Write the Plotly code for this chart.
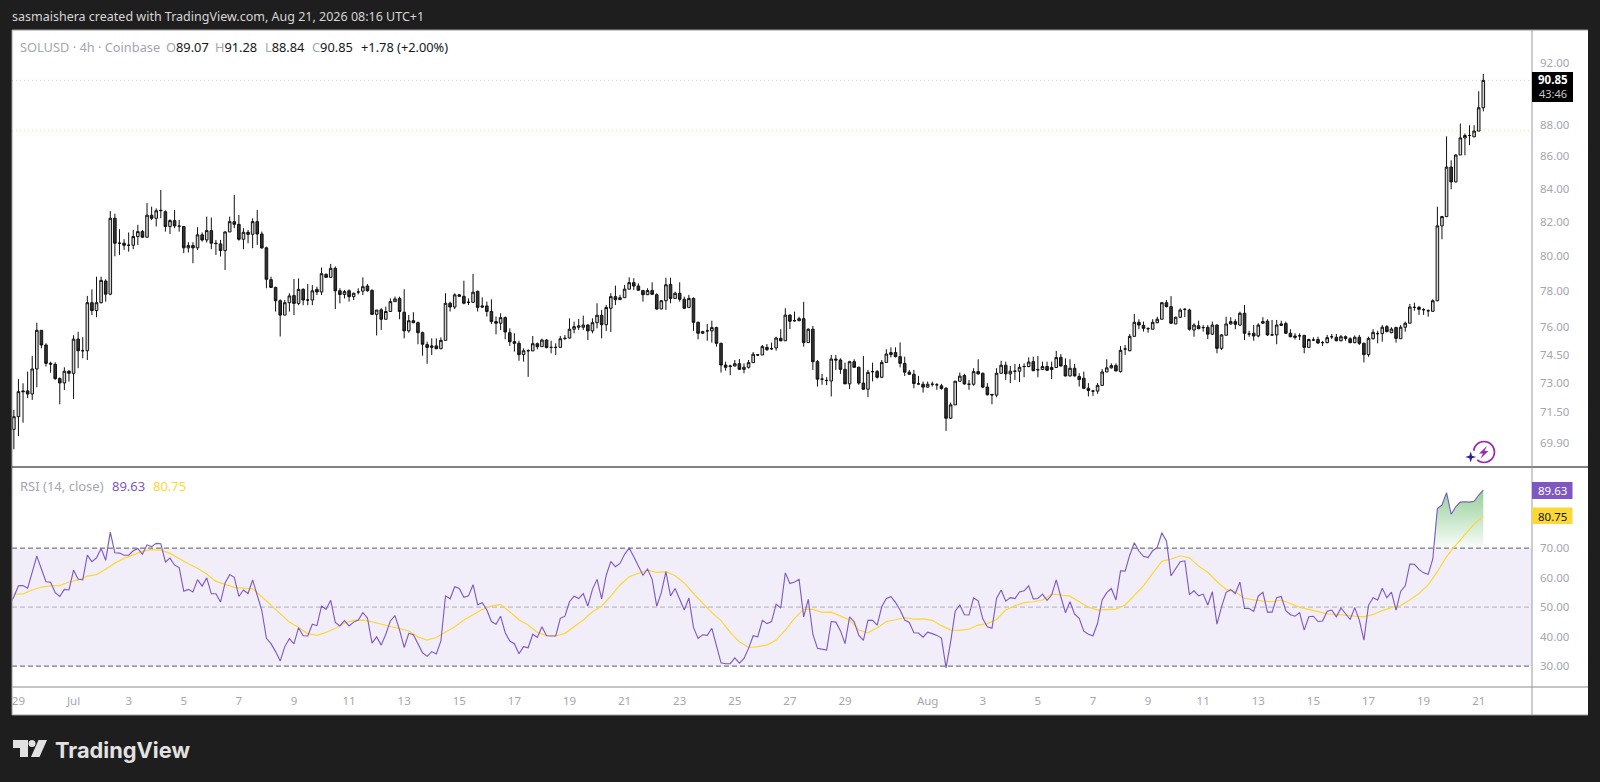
import math
import pandas as pd
import plotly.graph_objects as go

# --- 4h SOLUSD candles ---
OPEN = [
    71.24,70.59,71.24,72.58,72.58,72.42,73.74,75.83,75.03,74.04,
    73.99,73.23,73.0,73.62,73.51,75.35,74.72,74.72,77.36,76.92,
    77.36,78.58,77.84,82.23,80.76,80.76,80.64,80.64,81.15,81.44,
    81.11,82.41,82.23,82.68,82.62,81.74,82.09,81.76,81.74,80.49,
    80.62,80.49,81.25,80.95,81.5,80.76,80.72,80.33,81.42,82.03,
    81.87,80.99,81.4,81.28,82.03,81.3,80.49,78.66,78.22,77.47,
    76.67,77.36,77.76,77.32,78.11,77.51,77.51,78.11,77.96,78.96,
    78.79,79.31,78.03,77.82,78.03,77.7,77.96,78.01,78.3,78.05,
    76.71,76.96,76.44,76.87,77.42,77.6,76.83,75.8,76.36,76.25,
    75.7,75.05,74.9,74.98,74.83,75.28,77.33,77.12,77.8,77.72,
    77.38,77.38,78.0,77.18,77.18,76.87,76.31,76.22,76.53,75.7,
    75.21,75.12,74.51,74.72,74.71,75.1,74.94,75.3,74.9,74.9,
    74.9,75.39,75.41,75.89,76.0,76.0,76.12,75.8,76.25,76.66,
    76.14,77.05,77.7,77.53,77.64,78.12,78.49,78.3,78.04,77.81,
    78.04,77.81,77.01,77.47,78.39,77.6,77.89,77.55,77.1,77.6,
    76.27,75.67,75.8,75.8,75.98,75.12,73.95,73.9,73.9,74.02,
    73.72,73.83,74.08,74.5,74.49,74.9,74.83,74.87,75.39,75.26,
    76.67,76.36,76.36,76.47,75.16,75.89,74.13,73.2,73.13,73.1,
    74.27,74.22,73.72,72.95,74.13,73.83,72.99,72.67,73.6,73.6,
    73.3,74.09,74.51,74.62,74.4,74.04,73.57,73.46,72.95,72.93,
    72.78,72.93,72.9,72.85,72.72,71.16,71.85,73.09,73.39,72.93,
    72.93,73.6,73.51,72.78,72.39,72.36,73.51,73.94,73.48,73.62,
    73.62,73.87,73.87,74.13,73.7,73.71,73.87,73.71,73.82,74.36,
    73.92,73.37,73.78,73.34,73.25,72.72,72.57,72.57,72.87,73.58,
    73.8,73.92,73.6,74.81,74.72,75.5,76.27,76.1,75.92,75.89,
    76.25,76.44,77.36,77.14,76.18,76.55,76.99,76.95,75.85,76.08,
    75.98,75.99,75.62,76.12,74.85,75.56,76.18,76.31,76.12,76.77,
    75.63,75.67,75.52,76.22,76.33,75.58,75.58,76.1,76.2,75.67,
    75.52,75.53,75.55,74.9,75.3,75.33,75.16,75.16,75.48,75.45,
    75.26,75.48,75.37,75.16,75.45,75.12,74.51,75.37,75.65,75.65,
    76.03,75.7,75.98,75.37,76.0,76.22,77.1,77.1,76.97,76.91,
    76.88,77.47,81.78,82.33,85.33,84.42,86.08,87.15,87.3,87.22,87.58,89.07,
]
HIGH = [
    72.02,71.59,73.2,72.98,73.6,74.43,76.25,75.83,75.12,74.13,
    74.1,73.3,73.83,73.69,75.56,75.75,75.45,77.74,78.11,78.83,
    78.83,78.68,82.66,82.5,81.58,81.0,81.39,81.54,81.84,81.54,
    83.14,82.92,82.82,83.93,82.7,82.17,82.72,82.13,81.78,80.82,
    80.82,81.7,81.39,82.33,82.27,80.95,80.95,81.46,82.33,83.63,
    82.43,81.64,81.54,82.23,82.72,81.44,80.56,78.83,78.26,77.55,
    77.51,77.89,78.7,78.73,78.17,78.41,78.35,78.26,79.35,79.02,
    79.56,79.41,78.17,78.07,78.11,77.92,78.17,78.79,78.41,78.11,
    76.95,77.05,77.14,77.6,77.7,77.7,78.12,76.68,76.83,76.31,
    75.76,75.21,75.39,75.39,75.44,77.89,77.42,77.89,77.85,78.6,
    77.6,78.99,78.04,77.66,77.42,77.55,76.59,76.77,76.59,75.94,
    75.67,75.26,74.85,74.8,75.52,75.16,75.37,75.34,75.26,75.12,
    75.52,75.57,76.49,76.31,76.46,76.64,76.18,76.49,77.33,76.96,
    77.23,77.89,78.32,77.8,78.36,78.79,78.74,78.45,78.08,78.17,
    78.51,77.89,77.51,78.77,78.77,77.98,78.51,77.7,77.8,77.66,
    76.31,75.8,76.18,76.36,76.03,75.16,74.13,73.97,74.22,74.27,
    74.04,74.22,74.65,74.53,75.03,75.08,75.16,75.48,75.89,77.05,
    76.71,76.86,76.58,77.41,75.94,76.07,74.22,73.48,73.3,74.49,
    74.49,74.31,74.08,74.18,74.26,73.87,74.44,73.69,74.08,73.69,
    74.22,74.8,74.9,74.9,75.17,74.4,73.69,73.69,73.37,73.07,
    73.07,73.07,72.99,72.95,72.78,71.97,73.11,73.55,73.48,73.16,
    73.78,74.26,73.55,72.99,72.43,73.78,74.18,74.13,73.9,74.01,
    74.01,74.04,74.36,74.4,74.44,74.13,74.13,74.13,74.71,74.54,
    74.31,74.26,74.01,73.51,73.6,72.99,72.64,72.99,73.73,74.26,
    74.04,74.04,74.97,75.03,75.63,76.73,76.44,76.31,76.0,76.44,
    76.58,77.4,77.51,77.73,76.58,77.05,77.05,77.03,76.22,76.36,
    76.12,76.12,76.31,76.16,75.62,76.58,76.55,76.44,76.86,77.23,
    75.81,76.12,76.22,76.55,76.44,76.4,76.4,76.36,76.31,75.89,
    75.67,75.67,75.59,75.37,75.45,75.48,75.25,75.58,75.63,75.63,
    75.58,75.55,75.45,75.55,75.58,75.16,75.48,75.89,75.81,76.12,
    76.12,76.0,76.03,76.12,76.31,77.29,77.36,77.18,77.05,76.99,
    77.55,82.92,82.37,87.25,85.75,86.12,88.06,87.43,87.95,87.95,90.14,91.28,
]
LOW = [
    70.55,69.58,70.25,70.93,72.2,72.11,72.77,74.85,73.87,73.54,
    73.16,71.88,72.63,73.07,72.16,73.78,74.31,74.22,76.67,76.55,
    77.32,77.42,77.78,80.0,80.08,80.37,80.27,80.41,80.66,81.07,
    81.11,82.13,81.74,82.23,81.44,81.3,81.64,81.44,80.18,80.22,
    79.6,80.37,80.85,80.8,80.41,80.08,79.99,79.21,81.42,81.64,
    80.91,80.41,80.76,80.47,80.66,80.43,78.17,78.22,76.86,75.49,
    76.67,76.86,76.67,77.22,77.22,77.22,77.22,77.79,77.79,78.79,
    78.79,77.0,77.32,77.6,77.42,77.51,77.82,77.79,77.98,76.67,
    75.55,75.85,76.44,76.87,77.42,76.44,75.39,75.7,76.22,75.07,
    74.45,74.02,74.49,74.8,74.8,75.28,76.87,77.0,77.7,77.27,
    77.23,77.38,76.87,77.08,76.59,76.18,75.61,75.85,75.34,74.98,
    74.67,74.18,74.13,73.32,74.71,74.8,74.94,74.85,74.58,74.49,
    74.9,75.3,75.39,75.67,75.85,75.85,75.3,75.67,75.94,75.39,
    75.8,75.74,77.23,77.51,77.64,78.12,78.08,78.04,77.42,77.79,
    77.79,76.96,77.0,76.96,77.33,77.57,77.42,77.0,77.1,75.8,
    75.34,75.63,75.26,75.16,74.94,73.55,73.65,73.41,73.87,73.69,
    73.51,73.76,74.08,74.44,74.49,74.71,74.76,74.72,75.23,75.26,
    75.9,76.31,76.33,74.94,75.16,73.69,72.81,72.9,72.88,72.29,
    73.69,73.48,72.95,72.67,73.8,72.9,72.64,72.25,73.08,73.23,
    73.25,74.09,74.36,74.36,73.83,73.37,73.42,72.72,72.9,72.49,
    72.74,72.81,72.64,72.64,70.51,71.12,71.85,73.09,72.9,72.64,
    72.85,73.44,72.72,72.34,71.88,72.25,73.51,73.16,72.99,73.16,
    73.04,73.3,73.83,73.62,73.3,73.69,73.64,73.2,73.82,73.87,
    73.34,73.34,73.34,72.81,72.67,72.29,72.32,72.43,72.87,73.58,
    73.76,73.6,73.55,74.49,74.69,75.5,75.89,75.76,75.7,75.89,
    76.22,76.44,77.1,76.18,76.18,76.51,76.55,75.81,75.48,75.89,
    75.76,75.35,75.58,74.58,74.76,75.56,76.14,75.89,76.08,75.3,
    75.48,75.26,75.45,76.18,75.52,75.52,75.07,76.07,75.63,75.45,
    75.33,75.3,74.58,74.9,75.26,75.08,74.98,75.12,75.35,75.23,
    75.23,75.26,75.12,75.12,75.03,74.09,74.4,75.33,75.12,75.21,
    75.72,75.67,75.16,75.37,75.76,76.22,76.91,76.68,76.68,76.58,
    76.84,77.44,80.99,82.3,83.97,84.4,86.08,86.06,86.69,87.2,87.58,88.84,
]
CLOSE = [
    70.59,71.24,72.54,72.54,72.42,73.74,75.83,75.03,74.04,74.0,
    73.23,73.0,73.62,73.51,75.35,74.72,74.72,77.36,76.92,77.36,
    78.62,77.84,82.23,80.76,80.76,80.64,80.64,81.15,81.44,81.11,
    82.41,82.23,82.68,82.7,81.74,82.09,81.78,81.76,80.49,80.62,
    80.49,81.25,80.95,81.5,80.76,80.74,80.33,81.42,82.03,81.87,
    80.99,81.4,81.28,82.03,81.3,80.49,78.68,78.22,77.47,76.67,
    77.36,77.74,77.32,78.11,77.51,77.51,78.03,77.96,79.0,78.79,
    79.31,78.03,77.82,77.98,77.7,77.89,77.96,78.26,78.03,76.71,
    76.95,76.44,76.87,77.42,77.57,76.87,75.8,76.36,76.25,75.7,
    75.07,74.9,74.98,74.83,75.28,77.33,77.12,77.8,77.72,77.33,
    77.38,77.95,77.1,77.12,76.87,76.31,76.22,76.53,75.74,75.21,
    75.12,74.51,74.72,74.72,75.1,74.94,75.3,74.89,74.9,74.9,
    75.37,75.39,75.89,76.03,76.07,76.12,75.8,76.25,76.66,76.14,
    77.09,77.7,77.53,77.64,78.12,78.49,78.3,78.06,77.81,78.04,
    77.83,77.01,77.47,78.37,77.6,77.89,77.55,77.05,77.6,76.27,
    75.67,75.76,75.8,75.98,75.12,73.95,73.83,73.88,74.02,73.72,
    73.83,74.08,74.53,74.49,74.94,74.78,74.83,75.41,75.26,76.67,
    76.33,76.36,76.47,75.16,75.89,74.13,73.2,73.2,73.13,74.27,
    74.22,73.72,72.95,74.13,73.83,72.99,72.67,73.56,73.6,73.3,
    74.09,74.54,74.62,74.4,74.04,73.57,73.46,72.97,72.95,72.78,
    72.93,72.93,72.9,72.71,71.16,71.85,73.09,73.36,72.95,72.93,
    73.6,73.48,72.78,72.38,72.37,73.51,73.94,73.48,73.62,73.62,
    73.83,73.87,74.11,73.65,73.7,73.87,73.67,73.82,74.35,73.9,
    73.37,73.78,73.37,73.18,72.72,72.6,72.57,72.87,73.58,73.8,
    73.92,73.64,74.74,74.81,75.5,76.27,76.12,75.94,75.92,76.27,
    76.44,77.36,77.14,76.22,76.55,76.95,76.99,75.89,76.12,75.92,
    75.98,75.62,76.12,74.85,75.58,76.18,76.31,76.16,76.77,75.67,
    75.63,75.52,76.12,76.31,75.58,75.58,76.12,76.18,75.67,75.48,
    75.45,75.53,74.9,75.33,75.3,75.14,75.16,75.43,75.48,75.26,
    75.48,75.39,75.16,75.45,75.12,74.51,75.39,75.72,75.65,76.0,
    75.76,75.9,75.39,76.0,76.22,77.12,77.1,76.99,76.97,76.91,
    77.47,81.78,82.33,85.33,84.42,86.08,87.15,87.3,87.3,87.58,89.07,90.85,
]

# --- RSI (14) per candle, aligned to the last candle ---
RSI = [
    50.7,53.5,57.2,57.3,56.4,62.0,67.3,62.9,58.6,58.4,54.9,53.6,56.0,55.8,62.5,59.5,59.2,67.6,65.4,66.7,
    69.9,65.9,75.4,68.4,68.3,67.6,67.6,69.1,69.9,67.9,71.1,70.5,71.6,71.5,65.3,66.6,64.2,63.4,55.4,56.0,
    55.1,59.3,57.1,59.9,54.5,54.5,51.7,58.2,61.0,60.1,53.6,55.8,54.6,59.2,53.8,48.8,39.4,37.6,34.9,31.7,
    36.6,39.3,37.5,43.0,40.3,40.2,44.2,43.7,50.3,49.3,52.3,44.8,43.6,45.4,43.6,44.9,45.6,48.1,46.3,37.8,
    39.9,37.1,40.8,45.3,47.1,42.2,36.3,41.1,40.6,37.7,34.5,33.3,34.9,34.1,38.5,53.8,52.8,56.9,56.3,53.3,
    53.8,57.6,50.8,51.5,49.0,45.1,44.2,
    46.9,41.3,38.5,37.6,34.2,36.6,36.2,40.8,39.7,43.3,40.3,40.2,40.2,46.2,46.9,51.8,53.7,52.9,54.6,50.3,
    56.0,59.4,52.8,60.8,65.5,63.7,64.8,67.9,70.0,67.1,63.9,60.8,62.9,59.4,50.3,54.9,62.0,53.8,56.3,52.9,
    49.0,53.1,43.1,39.4,40.6,40.4,42.8,36.9,31.1,30.8,30.8,32.8,31.0,32.6,36.0,40.3,39.9,45.5,44.4,45.1,
    51.0,49.7,61.6,58.0,58.5,59.4,46.7,52.6,40.8,36.0,35.8,35.4,45.1,44.9,42.0,37.6,46.7,45.0,40.5,38.7,
    45.5,45.5,43.9,50.1,52.9,53.5,51.6,49.0,45.6,44.8,41.3,41.2,39.8,41.5,41.0,40.4,39.5,29.4,38.2,48.6,
    50.7,47.4,47.3,53.1,52.1,46.0,43.3,42.8,52.9,
    55.8,52.0,53.2,52.9,55.1,55.5,57.2,52.8,52.9,54.4,52.3,54.1,59.2,53.5,48.1,51.8,47.6,46.2,41.8,40.8,
    40.3,44.5,52.4,54.9,56.3,52.4,62.3,62.2,67.6,71.8,69.0,67.2,66.8,69.1,70.2,75.2,72.4,60.6,63.1,65.4,
    65.7,54.2,55.5,53.8,54.4,50.7,55.2,44.2,50.1,55.0,55.9,54.6,58.5,49.5,49.5,48.5,53.7,55.0,48.3,48.3,
    53.2,53.6,48.8,47.4,46.9,48.1,42.2,46.7,46.9,45.1,45.3,48.6,49.0,46.7,49.7,47.9,45.8,49.8,45.6,38.8,
    50.6,53.2,52.4,56.4,53.2,55.1,49.0,55.3,57.2,64.6,64.5,62.8,61.6,61.1,66.3,83.4,84.6,88.8,81.5,84.0,
    85.6,85.7,85.6,85.9,88.0,89.63,
]

# RSI moving average, read at every second candle, aligned to the last candle
RSI_MA = [
    54.9,54.4,54.5,55.8,56.8,57.2,57.3,58.5,59.2,60.5,61.0,62.8,64.9,66.5,67.7,68.9,69.5,69.3,68.2,66.4,
    64.7,63.2,61.2,58.7,57.7,56.7,56.4,56.2,53.5,50.6,47.9,44.9,43.1,41.0,40.4,41.4,42.8,44.5,45.5,45.6,
    45.0,44.1,43.4,42.7,41.9,39.9,38.8,39.7,41.6,43.3,45.6,47.3,49.2,50.3,
    50.9,48.4,45.6,43.9,41.4,40.3,40.2,41.1,43.3,45.6,48.4,50.3,53.7,57.5,60.3,61.4,62.5,61.8,62.0,60.6,
    58.2,54.6,51.2,48.1,45.4,41.4,38.2,36.3,36.6,37.1,38.8,42.2,46.2,49.2,49.2,48.2,48.3,46.9,45.6,42.2,
    41.3,43.0,45.1,45.7,46.4,45.9,46.0,45.5,43.7,42.2,42.1,42.5,43.9,44.4,
    45.8,49.0,50.5,51.5,51.8,52.4,54.4,54.1,53.7,51.8,50.0,49.0,49.2,49.3,50.7,54.1,57.2,61.4,65.5,66.3,
    67.4,66.7,63.9,61.8,58.6,56.0,55.2,52.9,52.4,52.0,51.8,52.4,51.2,49.9,49.2,48.4,47.7,47.5,47.1,46.9,
    46.7,47.5,48.8,49.8,50.5,52.4,54.6,57.5,62.0,67.1,71.0,74.7,78.1,80.75,
]

LAST_CANDLE = "2026-08-21 05:00"
LAST_PRICE = 90.85
ALERT_LEVEL = 87.6
PRICE_TICKS = [92, 88, 86, 84, 82, 80, 78, 76, 74.5, 73, 71.5, 69.9]
RSI_TICKS = [70, 60, 50, 40, 30]
DAY_TICKS = ["2026-06-29", "2026-07-01"] + [f"2026-07-{d:02d}" for d in range(3, 31, 2)] \
    + ["2026-08-01"] + [f"2026-08-{d:02d}" for d in range(3, 23, 2)]
DAY_LABELS = ["29", "Jul"] + [str(d) for d in range(3, 31, 2)] + ["Aug"] + [str(d) for d in range(3, 23, 2)]

W, H = 1600, 782
BG = "#1e1e1e"
GREY = "#a3a6af"
INK = "#131722"
PURPLE = "#7e57c2"
YELLOW = "#fdd835"
TEXT_FONT = "Noto Sans"


def px(x):
    return x / W


def py(y):
    return 1 - y / H


def poly(points):
    return "M" + " L".join(f"{px(x)},{py(y)}" for x, y in points) + " Z"


def paper_rect(x0, y0, x1, y1, color):
    return dict(type="rect", xref="paper", yref="paper", x0=px(x0), x1=px(x1), y0=py(y0), y1=py(y1),
                fillcolor=color, line_width=0, layer="below")


def paper_line(x0, y0, x1, y1, color, width=1):
    return dict(type="line", xref="paper", yref="paper", x0=px(x0), x1=px(x1), y0=py(y0), y1=py(y1),
                line=dict(color=color, width=width))


def label(x, y, text, size=12, color=GREY, anchor="left", family=TEXT_FONT):
    # annotations carry 2px of padding, pull them back so x is the ink edge
    shift = 2 if anchor == "left" else 0
    return dict(xref="paper", yref="paper", x=px(x - shift), y=py(y), text=text, showarrow=False,
                xanchor=anchor, yanchor="middle", font=dict(family=family, size=size, color=color))


def ohlc(letter, value):
    return f'<span style="color:{GREY}">{letter}</span><span style="color:{INK}">{value}</span>'


dates = pd.date_range(end=LAST_CANDLE, periods=len(CLOSE), freq="4h")
candle_hours = pd.Timedelta(hours=4)
PX_PER_CANDLE = 4.592
x_start = dates[-1] - candle_hours * ((1483.3 - 12) / PX_PER_CANDLE)
x_end = dates[-1] + candle_hours * ((1532 - 1483.3) / PX_PER_CANDLE)

rsi_dates = dates[-len(RSI):]
ma_dates = dates[::-1][::2][::-1]
ma_vals = RSI_MA[-len(ma_dates):]
ma_dates = ma_dates[-len(ma_vals):]

fig = go.Figure()

fig.add_trace(go.Candlestick(
    x=dates, open=OPEN, high=HIGH, low=LOW, close=CLOSE, xaxis="x", yaxis="y",
    increasing=dict(line=dict(color="#111111", width=1), fillcolor="#d4d4d4"),
    decreasing=dict(line=dict(color="#111111", width=1), fillcolor="#333333"),
    whiskerwidth=0, showlegend=False, hoverinfo="skip",
))

# overbought fill: only the part of the RSI above 70
fig.add_trace(go.Scatter(
    x=rsi_dates, y=[70] * len(RSI), xaxis="x2", yaxis="y2", mode="lines",
    line=dict(width=0), showlegend=False, hoverinfo="skip",
))
fig.add_trace(go.Scatter(
    x=rsi_dates, y=[max(v, 70) for v in RSI], xaxis="x2", yaxis="y2", mode="lines",
    line=dict(width=0), fill="tonexty", showlegend=False, hoverinfo="skip",
    fillgradient=dict(type="vertical", start=70, stop=90,
                      colorscale=[[0, "rgba(76,175,80,0.03)"], [1, "rgba(76,175,80,0.6)"]]),
))
fig.add_trace(go.Scatter(
    x=ma_dates, y=ma_vals, xaxis="x2", yaxis="y2", mode="lines",
    line=dict(color=YELLOW, width=1.2), showlegend=False, hoverinfo="skip",
))
fig.add_trace(go.Scatter(
    x=rsi_dates, y=RSI, xaxis="x2", yaxis="y2", mode="lines",
    line=dict(color=PURPLE, width=1.1), showlegend=False, hoverinfo="skip",
))

shapes = [
    paper_rect(12, 30, 1588, 715, "#ffffff"),
    # RSI band and levels
    dict(type="rect", xref="x2 domain", yref="y2", x0=0, x1=1, y0=30, y1=70,
         fillcolor="#f1edf9", line_width=0, layer="below"),
    dict(type="line", xref="x2 domain", yref="y2", x0=0, x1=1, y0=70, y1=70,
         line=dict(color="#77797f", width=1.2, dash="5px,3px"), layer="below"),
    dict(type="line", xref="x2 domain", yref="y2", x0=0, x1=1, y0=50, y1=50,
         line=dict(color="#bdbdc6", width=1.2, dash="5px,3px"), layer="below"),
    dict(type="line", xref="x2 domain", yref="y2", x0=0, x1=1, y0=30, y1=30,
         line=dict(color="#77797f", width=1.2, dash="5px,3px"), layer="below"),
    # price lines
    dict(type="line", xref="x domain", yref="y", x0=0, x1=1, y0=LAST_PRICE, y1=LAST_PRICE,
         line=dict(color="#cfd0d4", width=1, dash="1px,3px"), layer="below"),
    dict(type="line", xref="x domain", yref="y", x0=0, x1=1, y0=ALERT_LEVEL, y1=ALERT_LEVEL,
         line=dict(color="#f5e663", width=1, dash="1px,3px"), layer="below"),
    # frame
    paper_line(12, 30, 1588, 30, "#9a9a9a"),
    paper_line(12, 30, 12, 715, "#9a9a9a"),
    paper_line(12, 467, 1588, 467, "#55575c", 1.5),
    paper_line(12, 687, 1588, 687, "#b0b2b8", 1.5),
    paper_line(1532, 30, 1532, 715, "#9a9b9f"),
    paper_line(12, 715, 1588, 715, "#9a9a9a"),
    # value boxes on the axis
    dict(type="rect", xref="paper", yref="paper", x0=px(1532), x1=px(1573), y0=py(72), y1=py(102),
         fillcolor="#000000", line_width=0),
    dict(type="rect", xref="paper", yref="paper", x0=px(1532), x1=px(1572.5), y0=py(482), y1=py(499),
         fillcolor=PURPLE, line_width=0),
    dict(type="rect", xref="paper", yref="paper", x0=px(1532), x1=px(1572.5), y0=py(507.5), y1=py(524),
         fillcolor=YELLOW, line_width=0),
    # lightning badge
    dict(type="circle", xref="paper", yref="paper", x0=px(1473.5), x1=px(1494.5), y0=py(441.5), y1=py(462.5),
         line=dict(color="#9c27b0", width=1.6)),
    dict(type="circle", xref="paper", yref="paper", x0=px(1464), x1=px(1478), y0=py(450), y1=py(464),
         fillcolor="#ffffff", line_width=0),
    dict(type="path", xref="paper", yref="paper", line_width=0, fillcolor="#9c27b0",
         path=poly([(1487, 446), (1479, 453.5), (1483, 453.5), (1480.5, 458.5), (1488.5, 451), (1484.5, 451)])),
    dict(type="path", xref="paper", yref="paper", line_width=0, fillcolor="#311b92",
         path=poly([(1470.7, 451.5), (1472, 455.7), (1476.2, 457), (1472, 458.3), (1470.7, 462.5),
                    (1469.4, 458.3), (1465.2, 457), (1469.4, 455.7)])),
    # TradingView mark
    dict(type="path", xref="paper", yref="paper", line_width=0, fillcolor="#e2e2e2",
         path=poly([(13, 740), (28, 740), (28, 757), (20, 757), (20, 748), (13, 748)])),
    dict(type="circle", xref="paper", yref="paper", x0=px(28.5), x1=px(35.5), y0=py(740), y1=py(747),
         fillcolor="#e2e2e2", line_width=0),
    dict(type="path", xref="paper", yref="paper", line_width=0, fillcolor="#e2e2e2",
         path=poly([(38.5, 740), (47, 740), (39.5, 757), (31, 757)])),
]

annotations = [
    label(12, 17, "sasmaishera created with TradingView.com, Aug 21, 2026 08:16 UTC+1", size=12.5, color="#d6d6d6"),
    label(20, 47, "SOLUSD · 4h · Coinbase", size=12.8),
    label(166, 47, ohlc("O", "89.07"), size=12.8),
    label(215, 47, ohlc("H", "91.28"), size=12.8),
    label(265, 47, ohlc("L", "88.84"), size=12.8),
    label(312, 47, ohlc("C", "90.85"), size=12.8),
    label(361, 47, "+1.78 (+2.00%)", size=12.8, color=INK),
    label(20, 486, "RSI (14, close)", size=13),
    label(112, 486, "89.63", size=13, color=PURPLE),
    label(153, 486, "80.75", size=13, color=YELLOW),
    label(1552.5, 80, "<b>90.85</b>", size=11.5, color="#ffffff", anchor="center"),
    label(1552.5, 94, "43:46", size=11, color="#c8c8c8", anchor="center"),
    label(1552, 490.5, "89.63", size=11.5, color="#ffffff", anchor="center"),
    label(1552, 516, "80.75", size=11.5, color=INK, anchor="center"),
    label(55, 749.5, "<b>TradingView</b>", size=21.8, color="#e2e2e2", family="Inter"),
]

fig.update_layout(
    width=W, height=H, autosize=False,
    margin=dict(l=0, r=0, t=0, b=0),
    paper_bgcolor=BG, plot_bgcolor="#ffffff",
    font=dict(family=TEXT_FONT, size=11.5, color=GREY),
    showlegend=False, shapes=shapes, annotations=annotations,
    boxgap=0.2,
    xaxis=dict(domain=[px(12), px(1532)], range=[x_start, x_end], anchor="y", showgrid=False,
               showticklabels=False, ticks="", zeroline=False, rangeslider=dict(visible=False)),
    yaxis=dict(domain=[py(467), py(30)], type="log", side="right", anchor="x",
               range=[math.log10(92 * math.exp(-404 / 1383)), math.log10(92 * math.exp(33 / 1383))],
               tickmode="array", tickvals=PRICE_TICKS, ticktext=[f"{v:.2f}" for v in PRICE_TICKS],
               showgrid=False, zeroline=False, ticks="", ticklabelstandoff=7),
    xaxis2=dict(domain=[px(12), px(1532)], range=[x_start, x_end], anchor="y2", showgrid=False,
                tickmode="array", tickvals=[pd.Timestamp(d) + pd.Timedelta(hours=1) for d in DAY_TICKS],
                ticktext=DAY_LABELS, ticks="", ticklabelstandoff=5, tickangle=0, zeroline=False),
    yaxis2=dict(domain=[py(687), py(467)], side="right", anchor="x2", range=[22.9, 97.5],
                tickmode="array", tickvals=RSI_TICKS, ticktext=[f"{v:.2f}" for v in RSI_TICKS],
                showgrid=False, zeroline=False, ticks="", ticklabelstandoff=7),
)

fig.write_html("out.html", config=dict(displayModeBar=False),
               post_script="document.body.style.margin='0';document.body.style.background='#1e1e1e';")
